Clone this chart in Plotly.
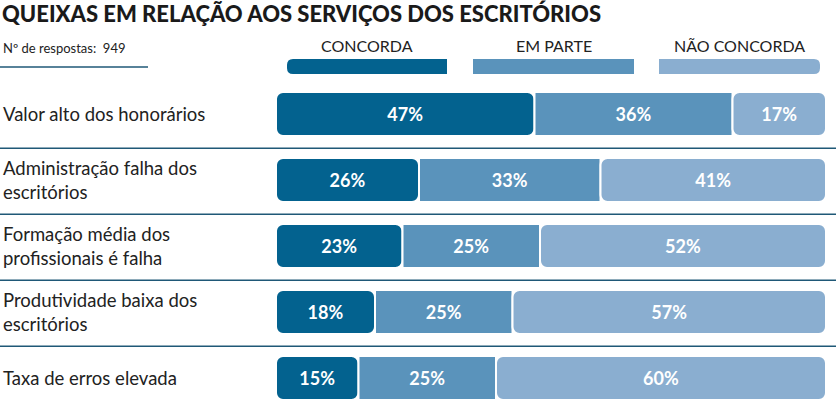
import plotly.graph_objects as go

# dados
itens = [
    "Valor alto dos honorários",
    "Administração falha dos<br>escritórios",
    "Formação média dos<br>profissionais é falha",
    "Produtividade baixa dos<br>escritórios",
    "Taxa de erros elevada",
]
concorda = [47, 26, 23, 18, 15]
em_parte = [36, 33, 25, 25, 25]
nao_concorda = [17, 41, 52, 57, 60]
legenda = ["CONCORDA", "EM PARTE", "NÃO CONCORDA"]
n_respostas = 949

cores = ["#03628f", "#5a93bb", "#8aaed0"]
linha = "#1f5877"
fonte = "Lato"

W, H = 836, 406
L, R = 276, 10
ROW0, ROWH = 114, 66  # px do centro da 1a linha, px por linha


def py(px):
    # pixel vertical -> coordenada y do eixo
    return (px - ROW0) / ROWH


def ppx(px):
    # pixel horizontal -> coordenada paper
    return (px - L) / (W - L - R)


def xval(px):
    return (px - L) / (W - L - R) * 100


pos = list(range(len(itens)))
base_ep = concorda
base_nc = [c + e for c, e in zip(concorda, em_parte)]

fig = go.Figure()
# concorda desenhado do fim para 0, para arredondar o lado esquerdo
fig.add_trace(go.Bar(
    y=pos, x=[-v for v in concorda], base=concorda, orientation="h",
    marker=dict(color=cores[0], line=dict(color="white", width=2), cornerradius=7),
    text=[f"{v}%" for v in concorda], name=legenda[0],
))
fig.add_trace(go.Bar(
    y=pos, x=em_parte, base=base_ep, orientation="h",
    marker=dict(color=cores[1], line=dict(color="white", width=2)),
    text=[f"{v}%" for v in em_parte], name=legenda[1],
))
fig.add_trace(go.Bar(
    y=pos, x=nao_concorda, base=base_nc, orientation="h",
    marker=dict(color=cores[2], line=dict(color="white", width=2), cornerradius=7),
    text=[f"{v}%" for v in nao_concorda], name=legenda[2],
))
fig.update_traces(
    width=0.67, textposition="inside", insidetextanchor="middle", textangle=0,
    textfont=dict(family=fonte, size=18, color="white", weight="bold"),
    hoverinfo="skip",
)

shapes = []
# separadores entre linhas
for i in range(len(itens) - 1):
    shapes.append(dict(type="line", xref="paper", yref="y",
                       x0=ppx(0), x1=ppx(W), y0=i + 0.52, y1=i + 0.52,
                       line=dict(color=linha, width=1.5)))
# linha sob "Nº de respostas"
shapes.append(dict(type="line", xref="paper", yref="y",
                   x0=ppx(0), x1=ppx(148), y0=py(67), y1=py(67),
                   line=dict(color=linha, width=1.5)))


def barra_legenda(x0, x1, y0, y1, esq, dir_, r=6):
    rx = r / 5.5
    ry = r / ROWH
    p = f"M {x0 + (rx if esq else 0)},{y0} "
    if dir_:
        p += f"L {x1 - rx},{y0} Q {x1},{y0} {x1},{y0 + ry} L {x1},{y1 - ry} Q {x1},{y1} {x1 - rx},{y1} "
    else:
        p += f"L {x1},{y0} L {x1},{y1} "
    if esq:
        p += f"L {x0 + rx},{y1} Q {x0},{y1} {x0},{y1 - ry} L {x0},{y0 + ry} Q {x0},{y0} {x0 + rx},{y0} Z"
    else:
        p += f"L {x0},{y1} Z"
    return dict(type="path", xref="x", yref="y", path=p,
                fillcolor=None, line=dict(width=0))


leg_px = [(287, 447), (473, 634), (659, 820)]
annotations = []
for k, (a, b) in enumerate(leg_px):
    s = barra_legenda(xval(a), xval(b), py(59), py(74), k == 0, k == 2)
    s["fillcolor"] = cores[k]
    shapes.append(s)
    annotations.append(dict(
        x=(xval(a) + xval(b)) / 2, y=py(45), xref="x", yref="y",
        text=legenda[k], showarrow=False, xanchor="center", yanchor="middle",
        font=dict(family=fonte, size=16, color="#222222"),
    ))

for i, t in enumerate(itens):
    annotations.append(dict(
        x=ppx(1), y=i, xref="paper", yref="y", text=t, showarrow=False,
        xanchor="left", yanchor="middle", align="left",
        font=dict(family=fonte, size=18.5, color="#222222"),
    ))

annotations.append(dict(
    x=ppx(0), y=py(13), xref="paper", yref="y",
    text="QUEIXAS EM RELAÇÃO AOS SERVIÇOS DOS ESCRITÓRIOS",
    showarrow=False, xanchor="left", yanchor="middle",
    font=dict(family=fonte, size=22, color="#1a1a1a", weight=900),
))
annotations.append(dict(
    x=ppx(1), y=py(48), xref="paper", yref="y",
    text=f"Nº de respostas:  {n_respostas}",
    showarrow=False, xanchor="left", yanchor="middle",
    font=dict(family=fonte, size=13, color="#222222"),
))

fig.update_layout(
    width=W, height=H, barmode="overlay", showlegend=False,
    margin=dict(l=L, r=R, t=0, b=0, pad=0),
    paper_bgcolor="white", plot_bgcolor="white",
    xaxis=dict(range=[0, 100], visible=False, fixedrange=True),
    yaxis=dict(range=[py(H), py(0)], visible=False, fixedrange=True),
    shapes=shapes, annotations=annotations,
)

# sem a margem padrão do body, para a figura ficar alinhada em 0,0
fig.write_html("out.html", config={"displayModeBar": False},
               post_script="document.body.style.margin='0';")
